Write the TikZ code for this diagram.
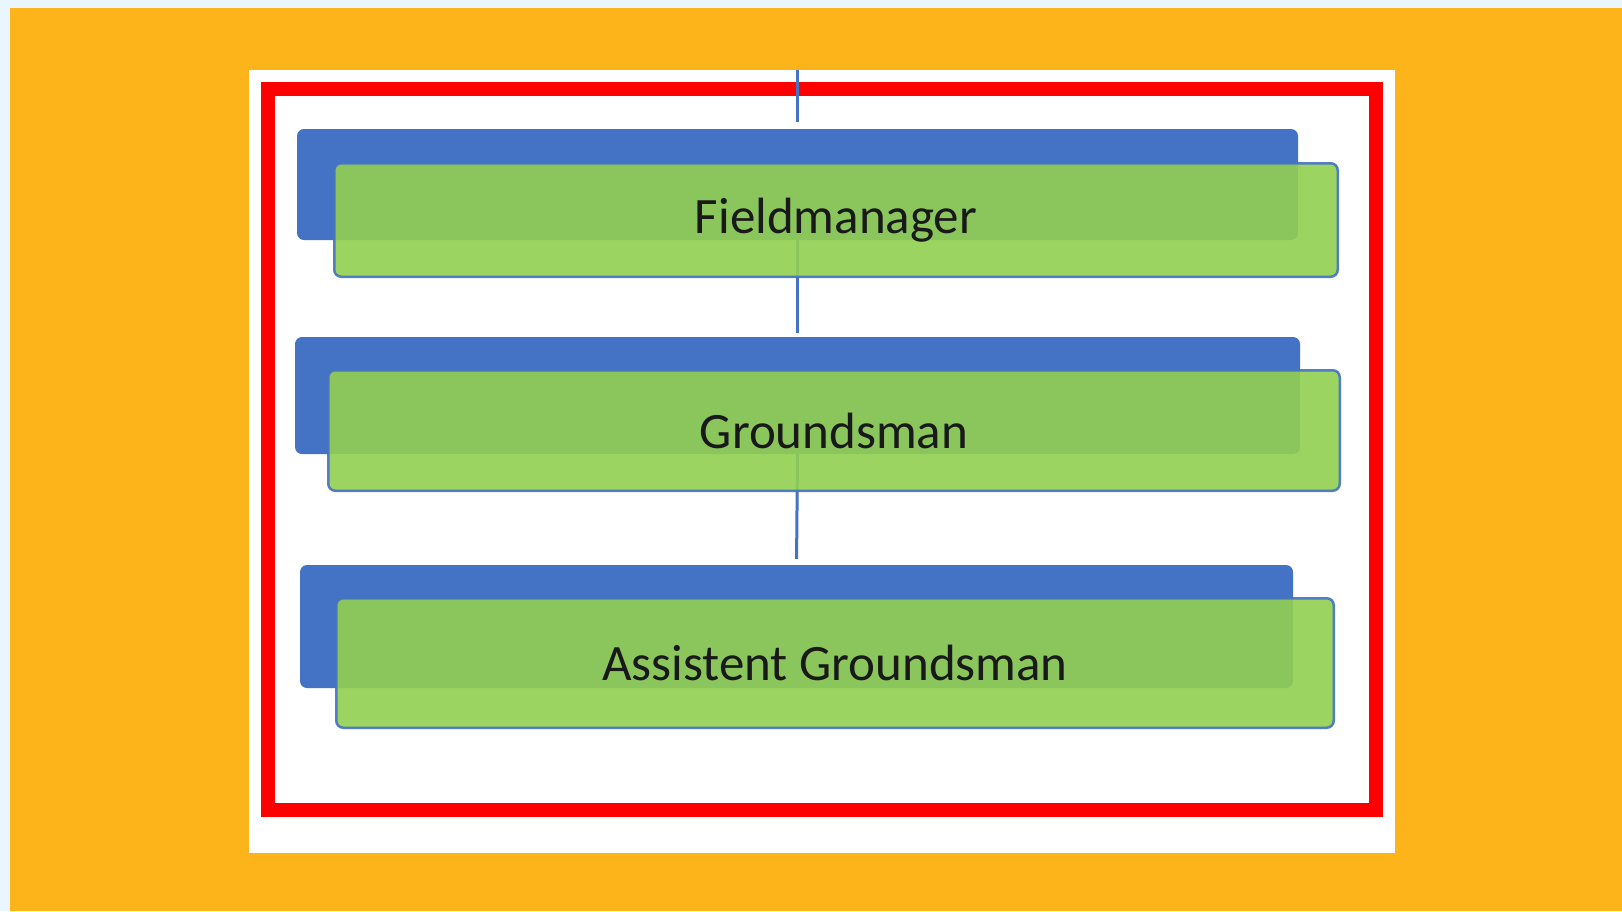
\documentclass[tikz,border=0pt]{standalone}
\usepackage{fontspec}
\setmainfont{Carlito}
\usetikzlibrary{positioning}

\definecolor{pagebg}{HTML}{EAF6FD}
\definecolor{slideorange}{HTML}{FDB41A}
\definecolor{orgblue}{HTML}{4472C4}
\definecolor{orggreen}{HTML}{92D050}

\begin{document}
\begin{tikzpicture}[x=1pt, y=-1pt]
        \tikzstyle{backbox}=[fill=orgblue, rounded corners=7pt, inner sep=0pt]
        \tikzstyle{rolebox}=[draw=orgblue, line width=2.5pt, rounded corners=7pt, fill=orggreen, fill opacity=0.9, draw opacity=0.9, text opacity=1, text=black!90, inner sep=0pt, font=\fontsize{51}{60}\selectfont]
        \tikzstyle{link}=[draw=orgblue, line width=3pt]
        \useasboundingbox (0,0) rectangle (1622,911);
        % background, panel and red frame
        \fill[pagebg] (0,0) rectangle (1622,911);
        \fill[slideorange] (10,8) rectangle (1622,911);
        \fill[white] (249,70) rectangle (1395,853);
        \draw[red, line width=14pt] (268,89) rectangle (1376,810);
        % blue boxes behind
        \node [backbox, minimum width=1001pt, minimum height=111pt] (fmback) at (797.5,184.5) {};
        \node [backbox, minimum width=1005pt, minimum height=117pt] (gmback) at (797.5,395.5) {};
        \node [backbox, minimum width=993pt, minimum height=123pt] (agmback) at (796.5,626.5) {};
        \coordinate (paneltop) at (797.5,70);
        % connectors
        \draw[link, shorten >=7pt] (paneltop) -- (fmback.north);
        \draw[link, shorten >=4pt] (fmback.south) -- (gmback.north);
        \draw[link, shorten >=6pt] (gmback.south) -- (agmback.north);
        % green role boxes
        \node [rolebox, minimum width=1003.5pt, minimum height=113.5pt] (fm) at (836,220) {Fieldmanager};
        \node [rolebox, minimum width=1011.5pt, minimum height=120.5pt] (gm) at (834,430.5) {Groundsman};
        \node [rolebox, minimum width=997.5pt, minimum height=129.5pt] (agm) at (835,663) {Assistent Groundsman};
    \end{tikzpicture}
\end{document}
